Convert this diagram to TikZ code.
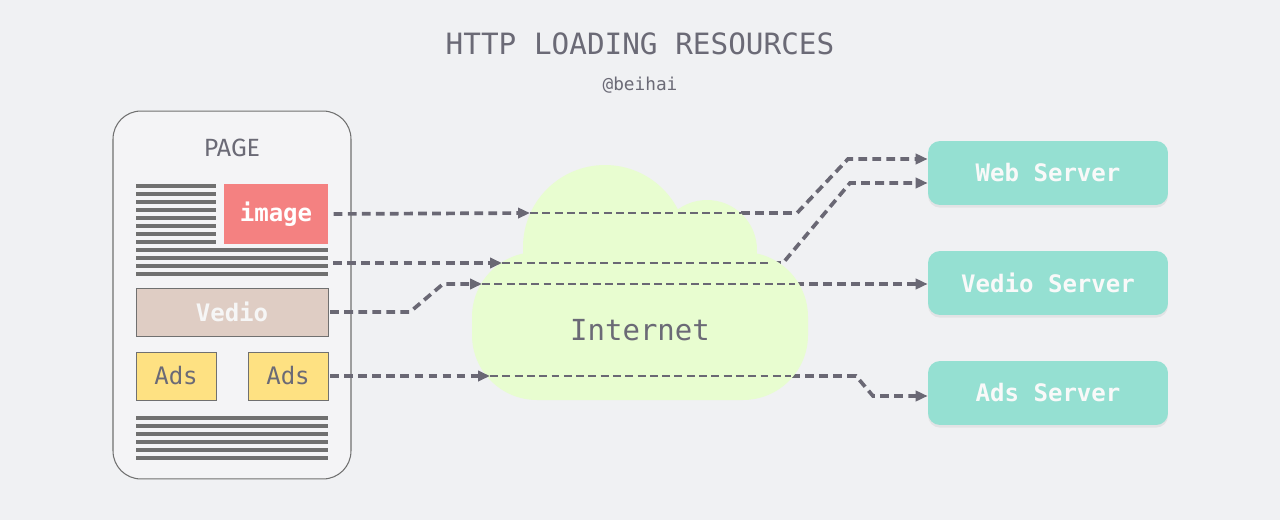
\documentclass[tikz,border=0pt]{standalone}
\usepackage{fontspec}
\setmainfont{Fira Sans}
\setmonofont{DejaVu Sans Mono}
\usepackage{tikz}
\usetikzlibrary{arrows.meta,shadows,calc}
\definecolor{bg}{HTML}{F0F1F3}
\definecolor{ink}{HTML}{6B6A76}
\definecolor{linkgray}{HTML}{6A6874}
\definecolor{linegray}{HTML}{707070}
\definecolor{imgred}{HTML}{F48181}
\definecolor{vediobrown}{HTML}{DFCDC4}
\definecolor{adsyellow}{HTML}{FEE182}
\definecolor{serverteal}{HTML}{95E0D2}
\definecolor{cloudgreen}{HTML}{E8FDD0}

\begin{document}
\begin{tikzpicture}[x=0.02cm,y=-0.02cm,>={Triangle[length=6.8pt,width=5.8pt]},
        link/.style={draw=linkgray,line width=2.1pt,dash pattern=on 5pt off 3pt},
        thin link/.style={draw=linkgray,line width=1pt,dash pattern=on 4.5pt off 2.5pt},
        textline/.style={draw=linegray,line width=2.2pt},
        box/.style={draw=linegray,line width=0.5pt,inner sep=0pt,font=\ttfamily\fontsize{13.7}{16}\selectfont},
        server/.style={fill=serverteal,rounded corners=6.8pt,minimum width=4.8cm,minimum height=1.28cm,
            text=white!95!gray,font=\ttfamily\bfseries\fontsize{13.7}{16}\selectfont,
            drop shadow={shadow xshift=0pt,shadow yshift=-1.5pt,opacity=0.12}}]
        \fill [bg] (0,0) rectangle (1280,520);
        \node [text=ink,font=\ttfamily\fontsize{16.7}{20}\selectfont] (title) at (640,44) {HTTP LOADING RESOURCES};
        \node [text=ink,font=\ttfamily\fontsize{10.1}{12}\selectfont] (author) at (640,85) {@beihai};
        % page
        \node [draw=linegray,fill=white!25!bg,line width=0.6pt,rounded corners=15.9pt,
            minimum width=4.76cm,minimum height=7.36cm] (page) at (232,295) {};
        \node [text=ink,font=\fontsize{14.2}{17}\selectfont] (pagetitle) at (232,148) {PAGE};
        \foreach \y in {186,194,...,242}
            \draw [textline] (136,\y) -- (216,\y);
        \foreach \y in {250,258,...,274}
            \draw [textline] (136,\y) -- (328,\y);
        \foreach \y in {418,426,...,458}
            \draw [textline] (136,\y) -- (328,\y);
        \coordinate (lines) at (328,263);
        \node [box,draw=none,fill=imgred,text=white,font=\ttfamily\bfseries\fontsize{13.7}{16}\selectfont,
            minimum width=2.08cm,minimum height=1.2cm] (image) at (276,214) {image};
        \node [box,fill=vediobrown,text=white!93!gray,font=\ttfamily\bfseries\fontsize{13.7}{16}\selectfont,
            minimum width=3.84cm,minimum height=0.96cm] (vedio) at (232,312) {Vedio};
        \node [box,fill=adsyellow,text=ink,minimum width=1.6cm,minimum height=0.96cm] (ads1) at (176,376) {Ads};
        \node [box,fill=adsyellow,text=ink,minimum width=1.6cm,minimum height=0.96cm] (ads2) at (288,376) {Ads};
        % servers
        \node [server] (web) at (1048,173) {Web Server};
        \node [server] (vserver) at (1048,283) {Vedio Server};
        \node [server] (aserver) at (1048,393) {Ads Server};
        % where the links meet the cloud
        \coordinate (in1) at (530,213);
        \coordinate (in2) at (502,263);
        \coordinate (in3) at (482,284);
        \coordinate (in4) at (490,376);
        \coordinate (out1) at (741,213);
        \coordinate (out2) at (772,263);
        \coordinate (out3) at (795,284);
        \coordinate (out4) at (791,376);
        % cloud to server
        \draw [link,->] (out1) -- (797,213) -- (848,159) -- ($(web.west)+(0,-14)$);
        \draw [link,->] (out2) -- (783,263) -- (850,183) -- ($(web.west)+(0,10)$);
        \draw [link,->] (out3) -- (vserver.west |- out3);
        \draw [link,->] (out4) -- (856,376) -- (873,396) -- ($(aserver.west)+(0,3)$);
        % cloud
        \fill [cloudgreen,rounded corners=1.3cm] (472,252) rectangle (808,400);
        \fill [cloudgreen] (605,247) circle [radius=1.64cm];
        \fill [cloudgreen] (707,250) circle [radius=1cm];
        \node [text=ink,font=\ttfamily\fontsize{16.5}{20}\selectfont] (internet) at (640,330) {Internet};
        \foreach \n in {1,...,4}
            \draw [thin link] (in\n) -- (out\n);
        % page to cloud
        \draw [link,->,shorten <=3pt] (image.east) -- (in1);
        \draw [link,->,shorten <=3pt] (lines) -- (in2);
        \draw [link,->,shorten <=1pt] (vedio.east) -- (410,312) -- (443,284) -- (in3);
        \draw [link,->,shorten <=1pt] (ads2.east) -- (in4);
    \end{tikzpicture}
\end{document}
